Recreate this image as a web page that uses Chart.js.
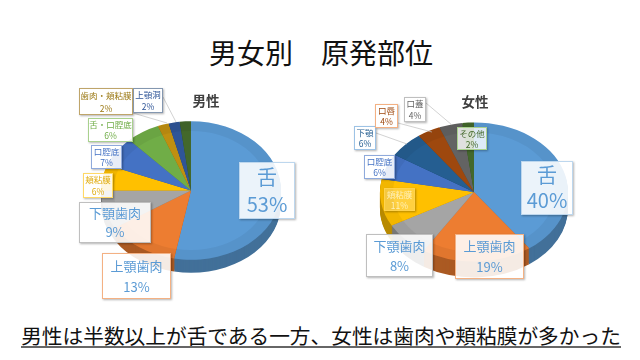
<!DOCTYPE html>
<html lang="ja">

<head>
    <meta charset="UTF-8">
    <title>男女別 原発部位</title>
    <script src="https://cdn.jsdelivr.net/npm/chart.js"></script>
    <style>
        html, body { margin: 0; padding: 0; background: #fff; }
        body { position: relative; width: 640px; height: 360px; overflow: hidden; font-family: "Noto Sans CJK JP", sans-serif; }
        h1 { position: absolute; left: 0; top: 32px; width: 642px; margin: 0; text-align: center; font-size: 28px; line-height: 40px; font-weight: 400; color: #111; }
        #note { position: absolute; left: 0; top: 325px; width: 642px; text-align: center; font-size: 20.7px; line-height: 21px; color: #111; white-space: nowrap; }
        #note span { display: inline-block; border-bottom: 2px solid #666; }
        .pie { position: absolute; top: 70px; width: 320px; height: 240px; }
        .pie canvas { display: block; }
        .head { position: absolute; font-size: 13.5px; line-height: 16px; font-weight: 700; color: #404040; transform: translateX(-50%); }
        .box { position: absolute; box-sizing: border-box; display: flex; flex-direction: column; align-items: center; justify-content: center; background: rgba(255, 255, 255, .88); border: 1.5px solid; box-shadow: 1px 1px 2px rgba(0, 0, 0, .3); white-space: nowrap; }
    </style>
</head>

<body>
    <h1>男女別　原発部位</h1>
    <div class="pie" style="left:0"><canvas id="maleChart" width="320" height="240"></canvas></div>
    <div class="pie" style="left:320px"><canvas id="femaleChart" width="320" height="240"></canvas></div>
    <div class="head" style="left:206px;top:92px">男性</div>
    <div class="head" style="left:475px;top:93px">女性</div>
    <div id="note"><span>男性は半数以上が舌である一方、女性は歯肉や頬粘膜が多かった</span></div>

    <script>
        // data
        const maleCategories = ['舌', '上顎歯肉', '下顎歯肉', '頬粘膜', '口腔底', '舌・口腔底', '歯肉・頬粘膜', '上顎洞', 'その他'];
        const maleValues = [53, 13, 9, 6, 7, 6, 2, 2, 2];
        const maleColors = ['#5B9BD5', '#ED7D31', '#A5A5A5', '#FFC000', '#4472C4', '#70AD47', '#BF8F10', '#2F5597', '#43682B'];

        const femaleCategories = ['舌', '上顎歯肉', '下顎歯肉', '頬粘膜', '口腔底', '下顎', '口唇', '口蓋', 'その他'];
        const femaleValues = [40, 19, 8, 11, 6, 6, 4, 4, 2];
        const femaleColors = ['#5B9BD5', '#ED7D31', '#A5A5A5', '#FFC000', '#4472C4', '#255E91', '#9E480E', '#636363', '#43682B'];

        // label boxes, page px: x, y, w, h, font size, text colour, border colour, fill opacity
        const maleBoxes = [
            [239, 162, 56, 57, 20, '#5B9BD5', '#BDD7EE', .88],
            [102, 253, 69, 46, 13, '#5B9BD5', '#F4B183', .88],
            [79, 202, 72, 41, 13, '#5B9BD5', '#BFBFBF', .88],
            [83, 173, 30, 25, 8.5, '#E0AC10', '#FFD966', .88],
            [91, 145, 31, 24, 8.5, '#4472C4', '#8FAADC', .88],
            [88, 118, 45, 24, 8.5, '#70AD47', '#A9D18E', .88],
            [79, 88, 54, 27, 8.5, '#9C7A16', '#BFA56A', .88],
            [133, 88, 30, 25, 8.5, '#2F5597', '#8497B0', .88],
            null
        ];
        const femaleBoxes = [
            [521, 161, 52, 54, 20, '#5B9BD5', '#BDD7EE', .88],
            [455, 234, 69, 45, 13, '#5B9BD5', '#F4B183', .88],
            [366, 234, 67, 43, 13, '#5B9BD5', '#BFBFBF', .88],
            [384, 188, 31, 23, 8.5, '#FFF0B8', '#FFD34D', .25],
            [364, 155, 31, 24, 8.5, '#4472C4', '#8FAADC', .88],
            [354, 126, 22, 24, 8.5, '#255E91', '#9DC3E6', .88],
            [375, 104, 23, 24, 8.5, '#9E480E', '#F4B183', .88],
            [404, 97, 22, 25, 8.5, '#636363', '#BFBFBF', .88],
            [457, 127, 30, 23, 8.5, '#43682B', '#A9D18E', .8]
        ];

        // leader lines, canvas px: x1, y1, x2, y2
        const maleLeaders = [[163, 27, 176, 52], [133, 43, 167, 53]];
        const femaleLeaders = [[106, 33, 132, 55], [78, 53, 112, 62], [56, 63, 87, 74]];

        function shade(hex, f) {
            const n = parseInt(hex.slice(1), 16);
            const c = [n >> 16, (n >> 8) & 255, n & 255].map(v => Math.round(v * f));
            return `rgb(${c[0]},${c[1]},${c[2]})`;
        }

        // squashes the pie into an ellipse and gives it a side wall
        const tiltPlugin = {
            id: 'tilt',
            beforeDatasetsDraw(chart, args, opts) {
                const ctx = chart.ctx;
                const arcs = chart.getDatasetMeta(0).data;
                const cx = arcs[0].x, cy = arcs[0].y;
                for (let k = opts.depth; k > 0; k--) {
                    arcs.forEach((arc, i) => {
                        ctx.save();
                        ctx.translate(cx, cy + k);
                        ctx.scale(1, opts.squash);
                        ctx.translate(-cx, -cy);
                        ctx.beginPath();
                        ctx.moveTo(cx, cy);
                        ctx.arc(cx, cy, arc.outerRadius, arc.startAngle, arc.endAngle);
                        ctx.closePath();
                        ctx.fillStyle = shade(chart.data.datasets[0].backgroundColor[i], .72);
                        ctx.fill();
                        ctx.restore();
                    });
                }
                ctx.save();
                ctx.translate(cx, cy);
                ctx.scale(1, opts.squash);
                ctx.translate(-cx, -cy);
            },
            afterDatasetsDraw(chart, args, opts) {
                const ctx = chart.ctx;
                const arcs = chart.getDatasetMeta(0).data;
                // darker rim on the top face
                arcs.forEach(arc => {
                    ctx.beginPath();
                    ctx.arc(arc.x, arc.y, arc.outerRadius, arc.startAngle, arc.endAngle);
                    ctx.arc(arc.x, arc.y, arc.outerRadius * .86, arc.endAngle, arc.startAngle, true);
                    ctx.closePath();
                    ctx.fillStyle = 'rgba(0,0,0,.05)';
                    ctx.fill();
                });
                ctx.restore();
                ctx.strokeStyle = '#BFBFBF';
                ctx.lineWidth = .7;
                opts.leaders.forEach(l => {
                    ctx.beginPath();
                    ctx.moveTo(l[0], l[1]);
                    ctx.lineTo(l[2], l[3]);
                    ctx.stroke();
                });
            }
        };

        function createPie(id, categories, values, colors, padding, tilt) {
            return new Chart(document.getElementById(id), {
                type: 'pie',
                data: {
                    labels: categories,
                    datasets: [{ data: values, backgroundColor: colors, borderWidth: 0, clip: false }]
                },
                options: {
                    responsive: false,
                    animation: false,
                    layout: { padding: padding },
                    plugins: {
                        legend: { display: false },
                        tooltip: { enabled: false },
                        tilt: tilt
                    }
                },
                plugins: [tiltPlugin]
            });
        }

        function addBoxes(categories, values, boxes) {
            boxes.forEach((b, i) => {
                if (!b) return;
                const el = document.createElement('div');
                el.className = 'box';
                el.style.cssText = `left:${b[0]}px;top:${b[1]}px;width:${b[2]}px;height:${b[3]}px;font-size:${b[4]}px;line-height:${b[3] * .46}px;color:${b[5]};border-color:${b[6]};background:rgba(255,255,255,${b[7]})`;
                [categories[i], values[i] + '%'].forEach(t => {
                    const line = document.createElement('div');
                    line.textContent = t;
                    el.appendChild(line);
                });
                document.body.appendChild(el);
            });
        }

        createPie('maleChart', maleCategories, maleValues, maleColors,
            { left: 101, right: 39, top: 30.5, bottom: 29.5 },
            { squash: .77, depth: 13, leaders: maleLeaders });
        createPie('femaleChart', femaleCategories, femaleValues, femaleColors,
            { left: 60, right: 72, top: 28, bottom: 24 },
            { squash: .74, depth: 16, leaders: femaleLeaders });

        addBoxes(maleCategories, maleValues, maleBoxes);
        addBoxes(femaleCategories, femaleValues, femaleBoxes);
    </script>
</body>

</html>
